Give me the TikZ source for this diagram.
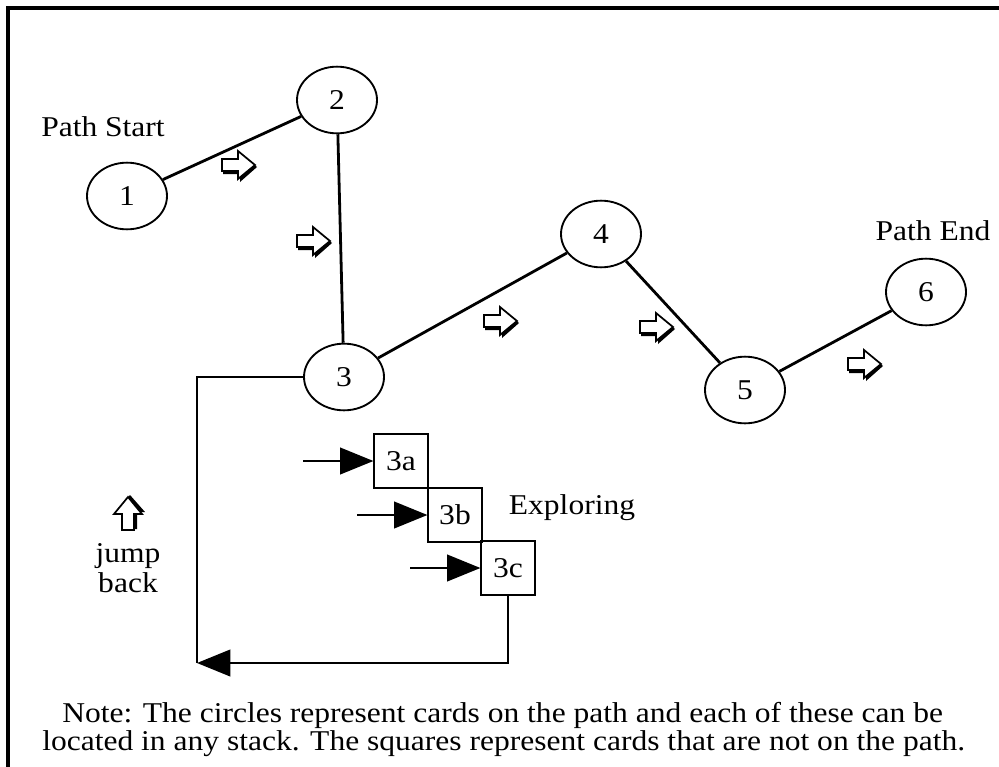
\documentclass[tikz,border=0pt]{standalone}
\usepackage{fontspec}
\setmainfont{Liberation Serif}[FakeStretch=1.1]
\usetikzlibrary{arrows.meta,shapes.geometric}
\begin{document}
\begin{tikzpicture}[x=0.75pt,y=-0.75pt,
  every node/.style={font=\fontsize{21.5}{18.75}\selectfont, inner sep=0pt},
  card/.style={ellipse,draw,line width=1.4pt,minimum width=60pt,minimum height=50pt},
  offcard/.style={rectangle,draw,line width=1.4pt,minimum size=40pt},
  pathedge/.style={line width=2.1pt},
  loopline/.style={line width=1.5pt},
  tip/.style={-{Triangle[length=25pt,width=20pt]}},
  hollow/.pic={
    \fill[black] (-15,-4) -- (2,-4) -- (2,-12) -- (19,2) -- (2,17) -- (2,9) -- (-15,9) -- cycle;
    \filldraw[fill=white,line width=1.3pt] (-16,-6) -- (0,-6) -- (0,-14) -- (17,0) -- (0,14) -- (0,6) -- (-16,6) -- cycle;
  }]
\useasboundingbox (0,0) rectangle (999,767);
\draw[line width=2.4pt] (8,767) -- (8,8) -- (999,8);

\node[card] (n1) at (127,196) {1};
\node[card] (n2) at (337,100) {2};
\node[card] (n3) at (344,377) {3};
\node[card] (n4) at (601,234) {4};
\node[card] (n5) at (745,390) {5};
\node[card] (n6) at (926,292) {6};

\draw[pathedge] (n1) -- (n2);
\draw[pathedge] (n2) -- (n3);
\draw[pathedge] (n3) -- (n4);
\draw[pathedge] (n4) -- (n5);
\draw[pathedge] (n5) -- (n6);

\pic at (238,165) {hollow};
\pic at (313,241) {hollow};
\pic at (500,321) {hollow};
\pic at (656,327) {hollow};
\pic at (864,364) {hollow};
\pic[rotate=90] at (128,514) {hollow};

\node (start) at (103,127) {Path Start};
\node (end) at (933,231) {Path End};
\node (explore) at (572,508) {Exploring};
\node[align=center,font=\fontsize{21.5}{22}\selectfont] (jump) at (128,568) {jump\\back};

\node[offcard] (n3a) at (401,461) {3a};
\node[offcard] (n3b) at (455,515) {3b};
\node[offcard] (n3c) at (508,568) {3c};

\coordinate (a1) at (303,461);
\coordinate (a2) at (357,515);
\coordinate (a3) at (410,568);
\draw[loopline,tip] (a1) -- (n3a.west);
\draw[loopline,tip] (a2) -- (n3b.west);
\draw[loopline,tip] (a3) -- (n3c.west);

\coordinate (lb) at (197,663);
\draw[loopline] (n3.west) -| (lb);
\draw[loopline,tip] (n3c.south) |- (lb);

\node[anchor=base west,align=left,font=\fontsize{21.5}{20.5}\selectfont] (note) at (42,750)
  {\hspace*{15pt}Note: The circles represent cards on the path and each of these can be\\
   located in any stack. The squares represent cards that are not on the path.};
\end{tikzpicture}
\end{document}
